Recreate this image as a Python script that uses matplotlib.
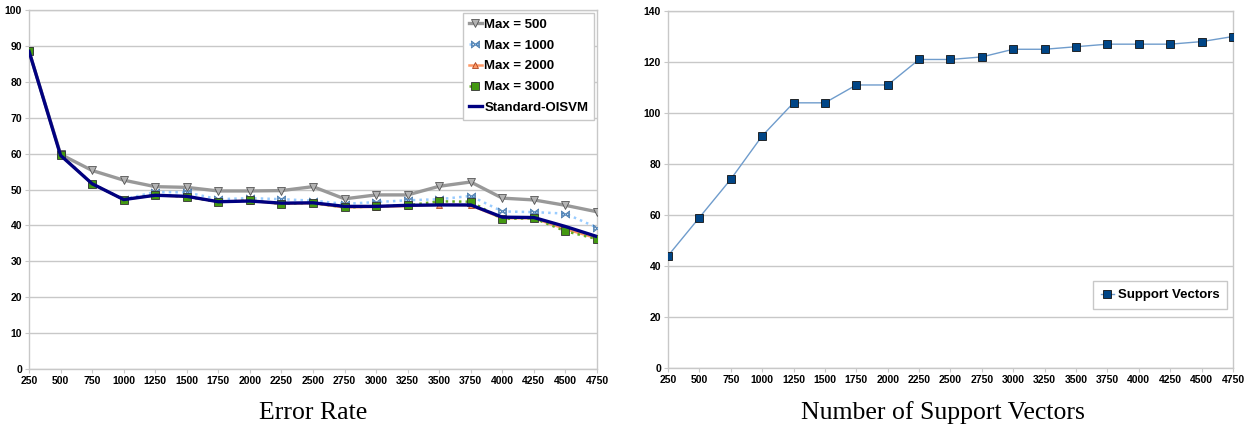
import matplotlib.pyplot as plt

x_vals = [250, 500, 750, 1000, 1250, 1500, 1750, 2000, 2250, 2500,
          2750, 3000, 3250, 3500, 3750, 4000, 4250, 4500, 4750]

err_500 = [88.5, 59.8, 55.3, 52.6, 50.8, 50.6, 49.6, 49.6, 49.7, 50.8,
           47.4, 48.5, 48.5, 50.9, 52.1, 47.6, 47.1, 45.6, 43.8]
err_1000 = [88.5, 59.8, 51.6, 47.3, 49.3, 49.2, 47.3, 47.6, 47.3, 46.9,
            46.0, 46.5, 47.0, 47.3, 48.2, 43.9, 43.7, 43.3, 39.4]
err_2000 = [88.5, 59.6, 51.6, 47.2, 48.4, 48.0, 46.6, 46.9, 46.0, 46.2,
            45.0, 45.2, 45.4, 45.8, 45.6, 42.0, 42.0, 39.0, 36.4]
err_3000 = [88.5, 59.6, 51.6, 47.2, 48.5, 48.0, 46.5, 47.0, 46.0, 46.3,
            45.0, 45.3, 45.6, 46.7, 46.6, 41.8, 42.0, 38.4, 36.2]
err_std = [88.5, 59.5, 51.6, 47.2, 48.4, 48.1, 46.6, 46.8, 46.2, 46.3,
           45.3, 45.3, 45.6, 45.7, 45.7, 42.3, 42.2, 39.7, 36.9]

support_vectors = [44, 59, 74, 91, 104, 104, 111, 111, 121, 121,
                   122, 125, 125, 126, 127, 127, 127, 128, 130]

tick_font = {'family': 'Liberation Sans', 'size': 7.5, 'weight': 'bold'}
legend_font = {'family': 'Liberation Sans', 'size': 9.5, 'weight': 'bold'}
grid_col = '#c8c8c8'

fig = plt.figure(figsize=(12.52, 4.32), dpi=100)
ax1 = fig.add_axes([0.0232, 0.1458, 0.4536, 0.8310])
ax2 = fig.add_axes([0.5335, 0.1480, 0.4513, 0.8265])


def style_axes(ax, ymax, ystep):
    ax.set_xlim(250, 4750)
    ax.set_ylim(0, ymax)
    ax.set_xticks(x_vals)
    ax.set_yticks(range(0, ymax + 1, ystep))
    ax.set_xticklabels([str(v) for v in x_vals], fontdict=tick_font)
    ax.set_yticklabels([str(v) for v in range(0, ymax + 1, ystep)], fontdict=tick_font)
    ax.grid(True, axis='y', color=grid_col, linewidth=1)
    ax.set_axisbelow(True)
    for s in ax.spines.values():
        s.set_color(grid_col)
        s.set_linewidth(1)
    ax.tick_params(axis='both', colors=grid_col, labelcolor='black', length=3, pad=2)


# Error rate
ax1.plot(x_vals, err_500, color='#999999', lw=2.4, marker='v', ms=6,
         mfc='#b3b3b3', mec='#555555', mew=0.6, label='Max = 500', zorder=3)
ax1.plot(x_vals, err_1000, color='#99ccff', lw=1.8, ls=':', marker=r'$\bowtie$', ms=6,
         mfc='#88bbee', mec='#336699', mew=0.4, label='Max = 1000', zorder=4)
ax1.plot(x_vals, err_2000, color='#ff9966', lw=1.8, marker='^', ms=5,
         mfc='#ff9966', mec='#aa4422', mew=0.6, label='Max = 2000', zorder=4)
ax1.plot(x_vals, err_3000, color='#66aa22', lw=1.8, ls=':', marker='s', ms=6,
         mfc='#449911', mec='#333333', mew=0.6, label='Max = 3000', zorder=5)
ax1.plot(x_vals, err_std, color='#000080', lw=2.4, label='Standard-OISVM', zorder=6)
style_axes(ax1, 100, 10)
leg1 = ax1.legend(loc='upper right', bbox_to_anchor=(1.0, 1.0), prop=legend_font,
                  fancybox=False, framealpha=1, edgecolor=grid_col,
                  handlelength=1.0, handletextpad=0.2, borderpad=0.45,
                  labelspacing=0.65, borderaxespad=0.2)
leg1.get_frame().set_linewidth(1)

# Support vectors
ax2.plot(x_vals, support_vectors, color='#6f9ccc', lw=1, marker='s', ms=6,
         mfc='#004586', mec='#111111', mew=0.6, label='Support Vectors', zorder=3)
style_axes(ax2, 140, 20)
leg2 = ax2.legend(loc='lower right', bbox_to_anchor=(0.99, 0.165), prop=legend_font,
                  fancybox=False, framealpha=1, edgecolor=grid_col,
                  handlelength=1.0, handletextpad=0.3, borderpad=0.6,
                  borderaxespad=0.0)
leg2.get_frame().set_linewidth(1)

fig.text(0.25, 0.045, 'Error Rate', ha='center', va='center',
         family='Liberation Serif', size=18.5)
fig.text(0.753, 0.045, 'Number of Support Vectors', ha='center', va='center',
         family='Liberation Serif', size=18.5)

fig.savefig('out.png', dpi=100)
